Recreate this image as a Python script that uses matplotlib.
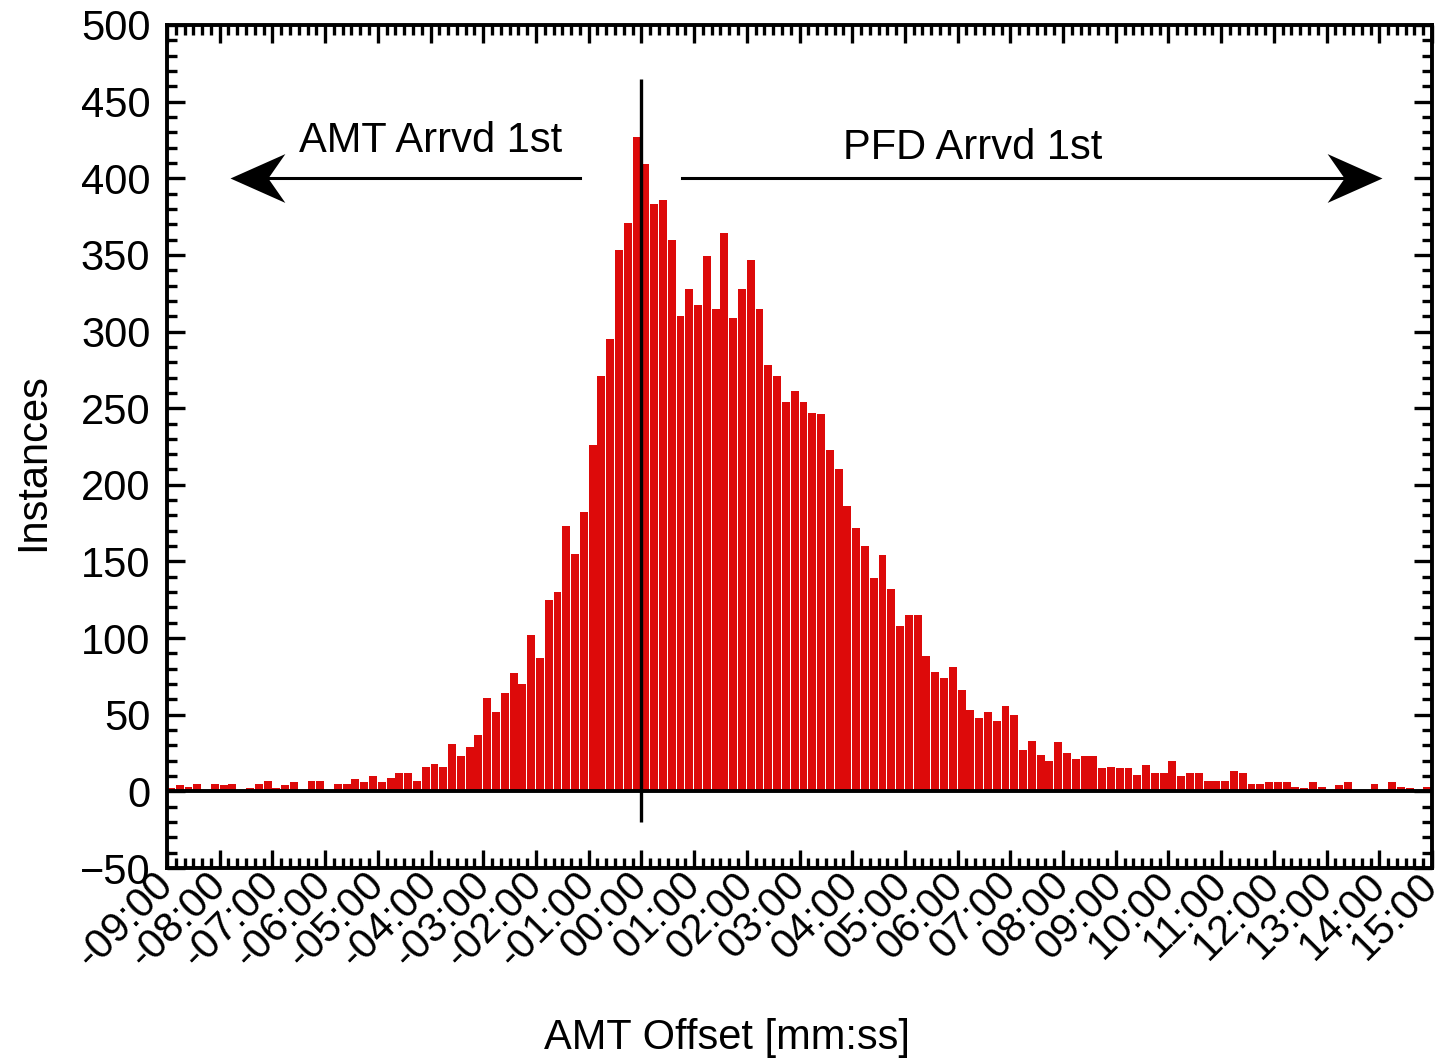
import numpy as np
import matplotlib
matplotlib.use('Agg')
import matplotlib.pyplot as plt
import matplotlib.transforms as mtransforms
from matplotlib.path import Path
from matplotlib.ticker import MultipleLocator

plt.rcParams['font.family'] = ['Liberation Sans', 'DejaVu Sans']

# 10-second bins from -09:00 to 15:00 (bin start, seconds)
bin_start_s = np.arange(-540, 900, 10)
counts = [2, 4, 3, 5, 0, 5, 4, 5, 0, 2, 5, 7, 2, 4, 6, 0, 7, 7, 0, 5,
          5, 8, 6, 10, 6, 9, 12, 12, 7, 16, 18, 16, 31, 23, 29, 37, 61, 52, 64, 77,
          70, 102, 87, 125, 130, 173, 155, 182, 226, 271, 295, 353, 371, 427, 409, 383, 386, 360, 310, 328,
          317, 349, 315, 364, 309, 328, 347, 315, 278, 271, 254, 261, 254, 247, 246, 223, 210, 186, 172, 160,
          139, 154, 132, 108, 115, 115, 88, 78, 74, 81, 66, 53, 48, 52, 46, 56, 50, 27, 33, 24,
          20, 32, 25, 21, 23, 23, 15, 16, 15, 15, 11, 17, 12, 12, 20, 10, 12, 12, 7, 7,
          7, 13, 12, 5, 5, 6, 6, 6, 3, 2, 6, 3, 0, 4, 6, 0, 0, 5, 0, 6,
          3, 2, 0, 3]

tick_pos_s = [-540, -480, -420, -360, -300, -240, -180, -120, -60, 0, 60, 120, 180,
              240, 300, 360, 420, 480, 540, 600, 660, 720, 780, 840, 900]
tick_labels = ['-09:00', '-08:00', '-07:00', '-06:00', '-05:00', '-04:00', '-03:00',
               '-02:00', '-01:00', '00:00', '01:00', '02:00', '03:00', '04:00', '05:00',
               '06:00', '07:00', '08:00', '09:00', '10:00', '11:00', '12:00', '13:00',
               '14:00', '15:00']

W, H = 1445, 1061
fig = plt.figure(figsize=(W / 100, H / 100), dpi=100)
ax = fig.add_axes([167 / W, 1 - 868 / H, (1432 - 167) / W, (868 - 25) / H])

ax.bar(bin_start_s, counts, width=9, align='edge', color='#dd0a0a', linewidth=0, zorder=2)
ax.axhline(0, color='k', lw=2.8, zorder=3)
ax.plot([0, 0], [-20, 465], color='k', lw=2.4, zorder=4, solid_capstyle='butt')

ax.set_xlim(-540, 900)
ax.set_ylim(-50, 500)
ax.set_xticks(tick_pos_s)
ax.set_xticklabels(tick_labels, rotation=45, ha='right', va='center', rotation_mode='anchor')
offset = mtransforms.ScaledTranslation(6 / 100, -2 / 100, fig.dpi_scale_trans)
for lab in ax.get_xticklabels():
    lab.set_transform(lab.get_transform() + offset)
ax.xaxis.set_minor_locator(MultipleLocator(10))
ax.yaxis.set_major_locator(MultipleLocator(50))
ax.yaxis.set_minor_locator(MultipleLocator(10))
ax.tick_params(which='both', direction='in', top=True, right=True, width=2.4, color='k')
ax.tick_params(which='major', length=13, labelsize=30)
ax.tick_params(axis='y', which='major', pad=12)
ax.tick_params(axis='x', which='major', pad=8)
ax.tick_params(which='minor', length=7)
for s in ax.spines.values():
    s.set_linewidth(2.8)

# arrows with stealth-style heads
head_left = Path([(0, 0), (1, 0.445), (0.69, 0), (1, -0.445), (0, 0)],
                 [Path.MOVETO, Path.LINETO, Path.LINETO, Path.LINETO, Path.CLOSEPOLY])
head_right = Path([(0, 0), (-1, 0.445), (-0.69, 0), (-1, -0.445), (0, 0)],
                  [Path.MOVETO, Path.LINETO, Path.LINETO, Path.LINETO, Path.CLOSEPOLY])
y_arrow = 400
ax.plot([-70, -440], [y_arrow, y_arrow], color='k', lw=2.2, zorder=5)
ax.plot([-468], [y_arrow], marker=head_left, markersize=79, color='k', mew=0, zorder=6)
ax.plot([46, 815], [y_arrow, y_arrow], color='k', lw=2.2, zorder=5)
ax.plot([843], [y_arrow], marker=head_right, markersize=79, color='k', mew=0, zorder=6)

ax.text(-240, 424.5, 'AMT Arrvd 1st', ha='center', va='center', fontsize=30)
ax.text(377, 420, 'PFD Arrvd 1st', ha='center', va='center', fontsize=30)

ax.set_xlabel('AMT Offset [mm:ss]', fontsize=30)
ax.xaxis.set_label_coords(0.443, -0.178)
ax.set_ylabel('Instances', fontsize=30)
ax.yaxis.set_label_coords(-0.090, 0.4816)

fig.savefig('out.png', dpi=100)
